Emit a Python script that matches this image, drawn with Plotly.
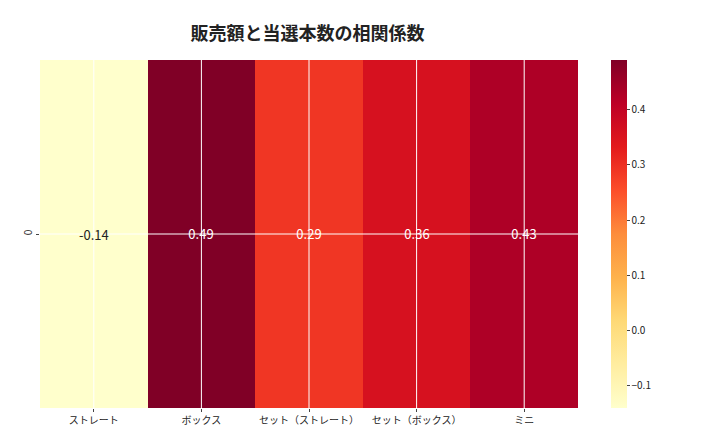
import plotly.graph_objects as go

categories = ["ストレート", "ボックス", "セット（ストレート）", "セット（ボックス）", "ミニ"]
values = [-0.14, 0.49, 0.29, 0.36, 0.43]
row_labels = ["0"]

ylorrd = [[0.0, "#ffffcc"], [0.125, "#ffeda0"], [0.25, "#fed976"], [0.375, "#feb24c"],
          [0.5, "#fd8d3c"], [0.625, "#fc4e2a"], [0.75, "#e31a1c"], [0.875, "#bd0026"], [1.0, "#800026"]]

fig = go.Figure(go.Heatmap(
    z=[values], x=categories, y=row_labels, colorscale=ylorrd,
    zmin=min(values), zmax=max(values),
    text=[["", "0.49", "0.29", "0.36", "0.43"]], texttemplate="%{text}",
    textfont=dict(size=13, color="white"),
    colorbar=dict(thickness=16, len=1, y=0.5, yanchor="middle", x=1.062, xanchor="left",
                  ypad=0, xpad=0, outlinewidth=0, tickvals=[-0.1, 0, 0.1, 0.2, 0.3, 0.4],
                  ticktext=["−0.1", "0.0", "0.1", "0.2", "0.3", "0.4"],
                  tickfont=dict(size=10), ticks="outside", ticklen=3),
))
fig.add_annotation(x=0, y=0, text="-0.14", showarrow=False, font=dict(size=13, color="#222"))
fig.update_layout(
    width=720, height=432, margin=dict(l=32, r=150, t=52, b=32, autoexpand=False),
    paper_bgcolor="white", plot_bgcolor="white",
    font=dict(family="Noto Sans CJK JP", size=10, color="#222"),
    title=dict(text="<b>販売額と当選本数の相関係数</b>", x=0.416, xanchor="center",
               y=0.94, yanchor="middle", font=dict(size=18)),
)
fig.update_xaxes(showgrid=False, ticks="outside", ticklen=3, tickfont=dict(size=10))
fig.update_yaxes(showgrid=False, ticks="outside", ticklen=3, tickangle=-90)
for i in range(len(categories)):
    fig.add_shape(type="line", xref="x", yref="paper", x0=i, x1=i, y0=0, y1=1,
                  line=dict(color="white", width=1))
fig.add_shape(type="line", xref="paper", yref="y", x0=0, x1=1, y0=0, y1=0,
              line=dict(color="white", width=1))
fig.write_html("out.html")
